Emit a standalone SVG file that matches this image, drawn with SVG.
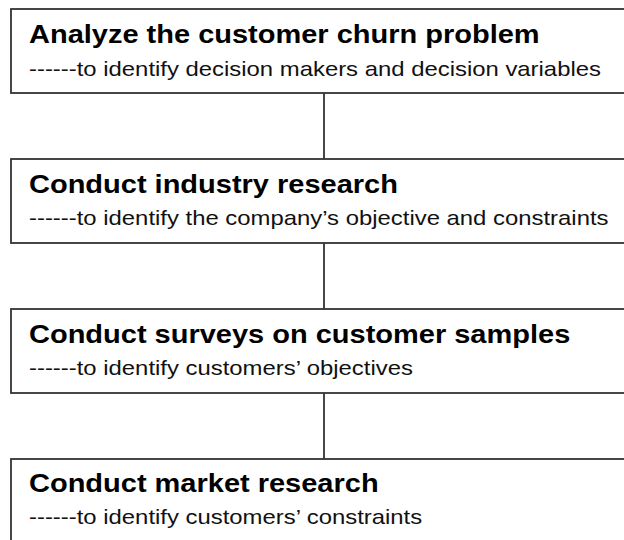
<svg xmlns="http://www.w3.org/2000/svg" width="624" height="540" viewBox="0 0 624 540">
<style>
.box{fill:#fff;stroke:#333;stroke-width:1.8}
.t{font-family:"Liberation Sans",Arial,sans-serif;font-weight:bold;font-size:25px;fill:#000}
.s{font-family:"Liberation Sans",Arial,sans-serif;font-size:20.5px;fill:#111}
.c{stroke:#333;stroke-width:1.8;fill:none}
</style>
<rect width="624" height="540" fill="#fff"/>
<g id="connectors">
<line class="c" x1="324" y1="93" x2="324" y2="159"/>
<line class="c" x1="324" y1="243" x2="324" y2="309"/>
<line class="c" x1="324" y1="393" x2="324" y2="459"/>
</g>
<g id="node1">
<rect class="box" x="11" y="9" width="640" height="84"/>
<text class="t" transform="translate(29,43) scale(1.16,1)">Analyze the customer churn problem</text>
<text class="s" transform="translate(29,76) scale(1.165,1)">------to identify decision makers and decision variables</text>
</g>
<g id="node2">
<rect class="box" x="11" y="159" width="640" height="84"/>
<text class="t" transform="translate(29,193) scale(1.16,1)">Conduct industry research</text>
<text class="s" transform="translate(29,225) scale(1.165,1)">------to identify the company’s objective and constraints</text>
</g>
<g id="node3">
<rect class="box" x="11" y="309" width="640" height="84"/>
<text class="t" transform="translate(29,343) scale(1.16,1)">Conduct surveys on customer samples</text>
<text class="s" transform="translate(29,375) scale(1.165,1)">------to identify customers’ objectives</text>
</g>
<g id="node4">
<rect class="box" x="11" y="459" width="640" height="100"/>
<text class="t" transform="translate(29,492) scale(1.16,1)">Conduct market research</text>
<text class="s" transform="translate(29,524) scale(1.165,1)">------to identify customers’ constraints</text>
</g>
</svg>
